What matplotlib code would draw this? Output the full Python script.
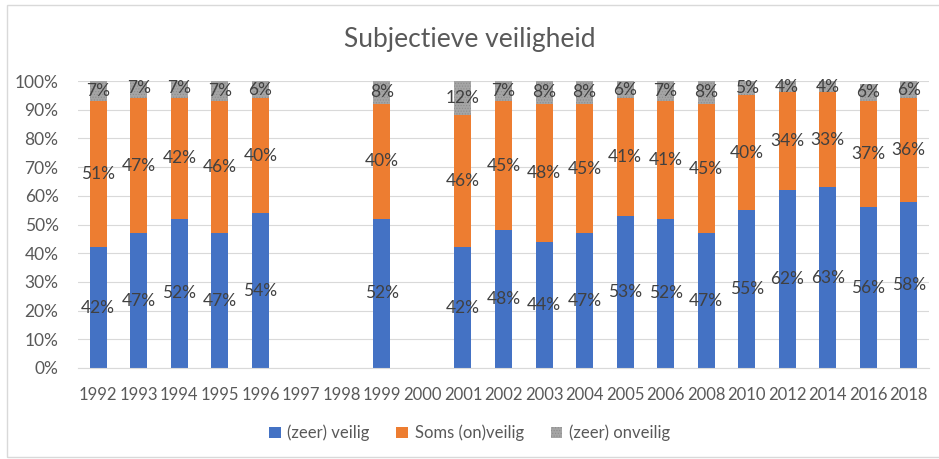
import numpy as np
import matplotlib.pyplot as plt
from matplotlib.patches import Rectangle
from matplotlib.ticker import PercentFormatter

plt.rcParams['font.family'] = ['Lato', 'DejaVu Sans']
plt.rcParams['hatch.color'] = '#8c8c8c'
plt.rcParams['hatch.linewidth'] = 0.5

years = ["1992", "1993", "1994", "1995", "1996", "1997", "1998", "1999", "2000", "2001", "2002",
         "2003", "2004", "2005", "2006", "2008", "2010", "2012", "2014", "2016", "2018"]
veilig = [42, 47, 52, 47, 54, np.nan, np.nan, 52, np.nan, 42, 48,
          44, 47, 53, 52, 47, 55, 62, 63, 56, 58]
soms = [51, 47, 42, 46, 40, np.nan, np.nan, 40, np.nan, 46, 45,
        48, 45, 41, 41, 45, 40, 34, 33, 37, 36]
onveilig = [7, 7, 7, 7, 6, np.nan, np.nan, 8, np.nan, 12, 7,
            8, 8, 6, 7, 8, 5, 4, 4, 6, 6]

series = [("(zeer) veilig", veilig, "#4472c4", None),
          ("Soms (on)veilig", soms, "#ed7d31", None),
          ("(zeer) onveilig", onveilig, "#a5a5a5", "......")]

fig = plt.figure(figsize=(9.39, 4.59), dpi=100)
ax = fig.add_axes([78 / 939, 1 - 368 / 459, (929 - 78) / 939, (368 - 81) / 459])

x = np.arange(len(years))
bottom = np.zeros(len(years))
txt = "#404040"
fs = 12.5
for name, vals, col, hatch in series:
    v = np.array(vals, dtype=float)
    vv = np.nan_to_num(v)
    ax.bar(x, vv, 0.42, bottom=bottom, color=col, label=name, hatch=hatch,
           linewidth=0, zorder=2)
    for xi, b, h in zip(x, bottom, v):
        if not np.isnan(h):
            ax.text(xi, b + h / 2, f"{int(h)}%", ha="center", va="center",
                    fontsize=fs, color=txt, zorder=3)
    bottom = bottom + vv

ax.set_ylim(0, 100)
ax.set_xlim(-0.5, len(years) - 0.5)
ax.set_yticks(range(0, 101, 10))
ax.yaxis.set_major_formatter(PercentFormatter(decimals=0))
ax.set_xticks(x)
ax.set_xticklabels(years)
ax.tick_params(axis="both", length=0, labelsize=fs, labelcolor="#595959")
ax.tick_params(axis="x", pad=14, labelsize=12)
ax.tick_params(axis="y", pad=14)
ax.grid(axis="y", color="#d9d9d9", linewidth=0.8, zorder=0)
for s in ["top", "right", "left"]:
    ax.spines[s].set_visible(False)
ax.spines["bottom"].set_color("#d9d9d9")

fig.text(0.5, 1 - 40 / 459, "Subjectieve veiligheid", ha="center", va="center",
         fontsize=19, color="#595959")

handles, labels = ax.get_legend_handles_labels()
fig.legend(handles, labels, loc="center", bbox_to_anchor=(0.5, 1 - 433 / 459), ncol=3,
           frameon=False, fontsize=12, labelcolor="#595959", handlelength=0.7,
           handleheight=0.7, columnspacing=1.6, handletextpad=0.4)

fig.patches.append(Rectangle((7 / 939, 2 / 459), 1, 1 - 7 / 459, transform=fig.transFigure,
                             fill=False, edgecolor="#d9d9d9", linewidth=1))

fig.savefig("out.png", dpi=100)
